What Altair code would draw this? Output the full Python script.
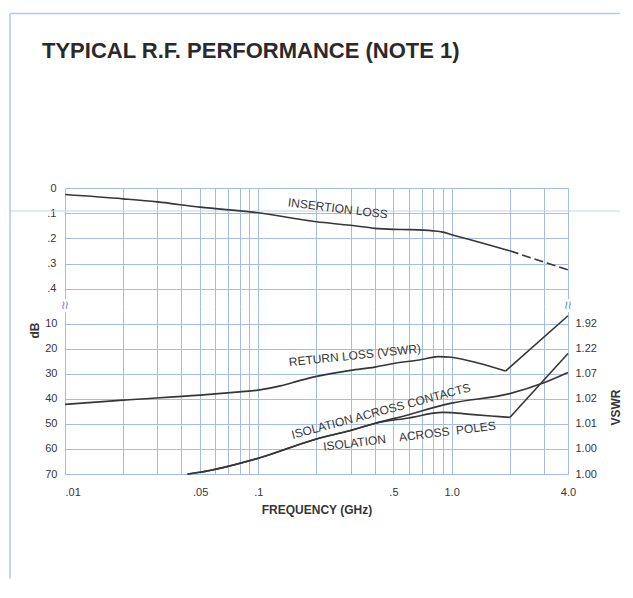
import altair as alt
import pandas as pd

# ---------------- text ----------------
TITLE = "TYPICAL R.F. PERFORMANCE (NOTE 1)"
X_TITLE = "FREQUENCY (GHz)"
Y_TITLE = "dB"
Y2_TITLE = "VSWR"

# ---------------- axes / grid ----------------
x_grid = [0.01, 0.02, 0.03, 0.04, 0.05, 0.06, 0.07, 0.08, 0.09, 0.1,
          0.2, 0.3, 0.4, 0.5, 0.6, 0.7, 0.8, 0.9, 1.0, 2.0, 3.0, 4.0]
x_label_values = [0.01, 0.05, 0.1, 0.5, 1.0, 4.0]
x_label_text = [".01", ".05", ".1", ".5", "1.0", "4.0"]

upper_ticks = [0, 0.1, 0.2, 0.3, 0.4]
upper_labels = ["0", ".1", ".2", ".3", ".4"]
lower_ticks = [10, 20, 30, 40, 50, 60, 70]
lower_labels = ["10", "20", "30", "40", "50", "60", "70"]
vswr_labels = ["1.92", "1.22", "1.07", "1.02", "1.01", "1.00", "1.00"]

# ---------------- series ----------------
# insertion loss (solid part, then dashed extrapolation)
il_freq = [0.01, 0.02, 0.03, 0.05, 0.1, 0.2, 0.3, 0.4, 0.5, 0.6, 0.8, 0.9, 1.0, 1.5, 2.0]
il_db = [0.026, 0.043, 0.055, 0.076, 0.098, 0.134, 0.148, 0.160, 0.164, 0.165,
         0.170, 0.175, 0.185, 0.222, 0.249]
il_dash_freq = [2.0, 3.0, 4.0]
il_dash_db = [0.249, 0.294, 0.325]

# return loss: curved part, then straight rise
rl_freq = [0.01, 0.02, 0.05, 0.08, 0.1, 0.13, 0.163, 0.2, 0.3, 0.4, 0.5, 0.7, 0.85,
           1.0, 1.4, 1.9]
rl_db = [42.2, 40.5, 38.5, 37.2, 36.5, 34.8, 32.7, 31.0, 28.6, 27.3, 25.9, 24.3, 23.1,
         23.4, 25.9, 28.9]
rl_tail_freq = [1.9, 4.0]
rl_tail_db = [28.9, 6.8]

# isolation across contacts
ic_freq = [0.043, 0.05, 0.1, 0.2, 0.3, 0.4, 0.6, 0.9, 1.0, 2.0, 3.0, 4.0]
ic_db = [70.0, 69.3, 63.7, 56.0, 52.6, 49.8, 46.3, 42.5, 41.7, 37.9, 33.6, 29.5]

# isolation across poles: curved part, then straight rise
ip_freq = [0.043, 0.05, 0.1, 0.2, 0.3, 0.4, 0.6, 0.9, 1.0, 1.3, 1.7, 2.0]
ip_db = [70.0, 69.3, 63.7, 56.0, 52.6, 49.8, 47.6, 45.4, 45.5, 46.3, 47.0, 47.4]
ip_tail_freq = [2.0, 4.0]
ip_tail_db = [47.4, 21.9]

# curve labels (anchored in data units)
lab_text = ["RETURN LOSS (VSWR)", "ISOLATION ACROSS CONTACTS",
            "ISOLATION\u00a0\u00a0\u00a0\u00a0ACROSS\u00a0\u00a0POLES"]
lab_freq = [0.316, 0.431, 0.605]
lab_db = [22.6, 44.9, 54.9]
lab_angle = [354, 345, 353]
il_lab_text = ["INSERTION LOSS"]
il_lab_freq = [0.258]
il_lab_db = [0.081]
il_lab_angle = [7]

# ---------------- style ----------------
W = 503
H_UP = 118
H_LO = 168
GRID = "#a4bcec"
FRAME = "#b3c7ef"
INK = "#363636"
FONT = "Liberation Sans, Arial, Helvetica, sans-serif"
TFONT = "Liberation Sans, Arial, sans-serif"


def lookup_expr(vals, texts):
    v = "[" + ",".join(repr(float(a)) for a in vals) + "]"
    t = "[" + ",".join("'" + s + "'" for s in texts) + "]"
    return f"indexof({v}, datum.value) < 0 ? '' : {t}[indexof({v}, datum.value)]"


x_scale = alt.Scale(type="log", domain=[0.01, 4.0], nice=False)
y_up_scale = alt.Scale(domain=[0, 0.468], reverse=True, nice=False, zero=False)
y_lo_scale = alt.Scale(domain=[2.9, 70], reverse=True, nice=False, zero=False)

x_axis_up = alt.Axis(values=x_grid, grid=True, gridColor=GRID, gridWidth=1,
                     ticks=False, tickSize=0, domain=False, labels=False, title=None)
x_axis_lo = alt.Axis(values=x_grid, grid=True, gridColor=GRID, gridWidth=1,
                     ticks=False, tickSize=0, domain=False,
                     labelExpr=lookup_expr(x_label_values, x_label_text),
                     labelFont=FONT, labelFontSize=11, labelColor=INK,
                     labelPadding=12, labelOverlap=False, labelFlush=False,
                     labelAlign={"condition": {"test": "datum.value < 0.011", "value": "left"},
                                 "value": "center"},
                     title=X_TITLE, titleFont=FONT, titleFontSize=12,
                     titleFontWeight="bold", titleColor=INK, titlePadding=7)
y_axis_up = alt.Axis(values=upper_ticks, grid=True, gridColor=GRID, gridWidth=1,
                     ticks=False, tickSize=0, domain=False,
                     labelExpr=lookup_expr(upper_ticks, upper_labels),
                     labelFont=FONT, labelFontSize=11, labelColor=INK, labelPadding=9,
                     title=None, minExtent=40)
y_axis_lo = alt.Axis(values=lower_ticks, grid=True, gridColor=GRID, gridWidth=1,
                     ticks=False, tickSize=0, domain=False,
                     labelExpr=lookup_expr(lower_ticks, lower_labels),
                     labelFont=FONT, labelFontSize=11, labelColor=INK, labelPadding=8,
                     title=Y_TITLE, titleFont=FONT, titleFontSize=12, titleFontWeight="bold",
                     titleColor=INK, titleAngle=270, titleX=-31, titleY=24,
                     titleAlign="center", titleBaseline="middle", minExtent=40)
y_axis_right = alt.Axis(orient="right", values=lower_ticks, grid=False,
                        ticks=False, tickSize=0, domain=False,
                        labelExpr=lookup_expr(lower_ticks, vswr_labels),
                        labelFont=FONT, labelFontSize=11, labelColor=INK, labelPadding=7,
                        title=Y2_TITLE, titleFont=FONT, titleFontSize=12,
                        titleFontWeight="bold", titleColor=INK, titleAngle=270,
                        titleX=47, titleY=101, titleAlign="center", titleBaseline="middle")

# ---------------- data frames ----------------
il_df = pd.DataFrame({"freq": il_freq, "value": il_db})
il_dash_df = pd.DataFrame({"freq": il_dash_freq, "value": il_dash_db})
curve_df = pd.concat([
    pd.DataFrame({"freq": rl_freq, "value": rl_db, "series": "return"}),
    pd.DataFrame({"freq": ic_freq, "value": ic_db, "series": "contacts"}),
    pd.DataFrame({"freq": ip_freq, "value": ip_db, "series": "poles"}),
], ignore_index=True)
tail_df = pd.concat([
    pd.DataFrame({"freq": rl_tail_freq, "value": rl_tail_db, "series": "return"}),
    pd.DataFrame({"freq": ip_tail_freq, "value": ip_tail_db, "series": "poles"}),
], ignore_index=True)
lab_df = pd.DataFrame({"freq": lab_freq, "value": lab_db, "label": lab_text, "angle": lab_angle})
il_lab_df = pd.DataFrame({"freq": il_lab_freq, "value": il_lab_db, "label": il_lab_text,
                          "angle": il_lab_angle})
one = pd.DataFrame({"k": [0]})

# ---------------- upper panel ----------------
il_line = alt.Chart(il_df).mark_line(color=INK, strokeWidth=1.6, interpolate="monotone").encode(
    x=alt.X("freq:Q", scale=x_scale, axis=x_axis_up),
    y=alt.Y("value:Q", scale=y_up_scale, axis=y_axis_up),
)
il_dash = alt.Chart(il_dash_df).mark_line(color=INK, strokeWidth=1.6, strokeDash=[9, 4]).encode(
    x=alt.X("freq:Q", scale=x_scale, axis=x_axis_up),
    y=alt.Y("value:Q", scale=y_up_scale, axis=y_axis_up),
)
il_label = alt.Chart(il_lab_df).mark_text(font=FONT, fontSize=12, color=INK).encode(
    x=alt.X("freq:Q", scale=x_scale, axis=x_axis_up),
    y=alt.Y("value:Q", scale=y_up_scale, axis=y_axis_up),
    text="label:N",
    angle=alt.Angle("angle:Q", scale=None),
)
frame_left = alt.Chart(one).mark_rule(color=FRAME, strokeWidth=1.5).encode(
    x=alt.value(-55), y=alt.value(-174.5), y2=alt.value(390.5))
frame_top = alt.Chart(one).mark_rule(color=FRAME, strokeWidth=1.5).encode(
    x=alt.value(-55), x2=alt.value(555), y=alt.value(-174.5))
stray = alt.Chart(one).mark_rule(color="#c3d3f3", strokeWidth=1).encode(
    x=alt.value(-55), x2=alt.value(555), y=alt.value(23))
title = alt.Chart(one).mark_text(text=TITLE, font=TFONT, fontSize=22, fontWeight="bold",
                                 color="#2a2a2a", align="left", baseline="alphabetic").encode(
    x=alt.value(-23), y=alt.value(-130))

upper = alt.layer(stray, frame_left, frame_top, title, il_line, il_dash, il_label).properties(
    width=W, height=H_UP)

# ---------------- lower panel ----------------
curves = alt.Chart(curve_df).mark_line(color=INK, strokeWidth=1.6, interpolate="monotone").encode(
    x=alt.X("freq:Q", scale=x_scale, axis=x_axis_lo),
    y=alt.Y("value:Q", scale=y_lo_scale, axis=y_axis_lo),
    detail="series:N",
)
tails = alt.Chart(tail_df).mark_line(color=INK, strokeWidth=1.6).encode(
    x=alt.X("freq:Q", scale=x_scale, axis=x_axis_lo),
    y=alt.Y("value:Q", scale=y_lo_scale, axis=None),
    detail="series:N",
)
right_axis = alt.Chart(curve_df).mark_line(opacity=0).encode(
    x=alt.X("freq:Q", scale=x_scale, axis=x_axis_lo),
    y=alt.Y("value:Q", scale=y_lo_scale, axis=y_axis_right),
    detail="series:N",
)
labels = alt.Chart(lab_df).mark_text(font=FONT, fontSize=12, color=INK).encode(
    x=alt.X("freq:Q", scale=x_scale, axis=x_axis_lo),
    y=alt.Y("value:Q", scale=y_lo_scale, axis=None),
    text="label:N",
    angle=alt.Angle("angle:Q", scale=None),
)
gap_l = alt.Chart(one).mark_rule(color="white", strokeWidth=3).encode(
    x=alt.value(0), y=alt.value(-7), y2=alt.value(6))
gap_r = alt.Chart(one).mark_rule(color="white", strokeWidth=3).encode(
    x=alt.value(W), y=alt.value(-7), y2=alt.value(6))
brk_l = alt.Chart(one).mark_text(text="\u2248", angle=90, fontSize=15, color="#6f93dc",
                                 font=FONT).encode(x=alt.value(0), y=alt.value(-1))
brk_r = alt.Chart(one).mark_text(text="\u2248", angle=90, fontSize=15, color="#6f93dc",
                                 font=FONT).encode(x=alt.value(W), y=alt.value(-1))

lower = alt.layer(curves, tails, right_axis, labels, gap_l, gap_r, brk_l, brk_r).resolve_axis(
    y="independent").properties(width=W, height=H_LO)

chart = alt.vconcat(upper, lower, spacing=0, bounds="flush").properties(
    padding={"left": 1, "top": 4, "right": 0, "bottom": 0},
    background="white",
).configure_view(strokeWidth=0)

chart.save("out.html", embed_options={"renderer": "svg", "actions": False})
